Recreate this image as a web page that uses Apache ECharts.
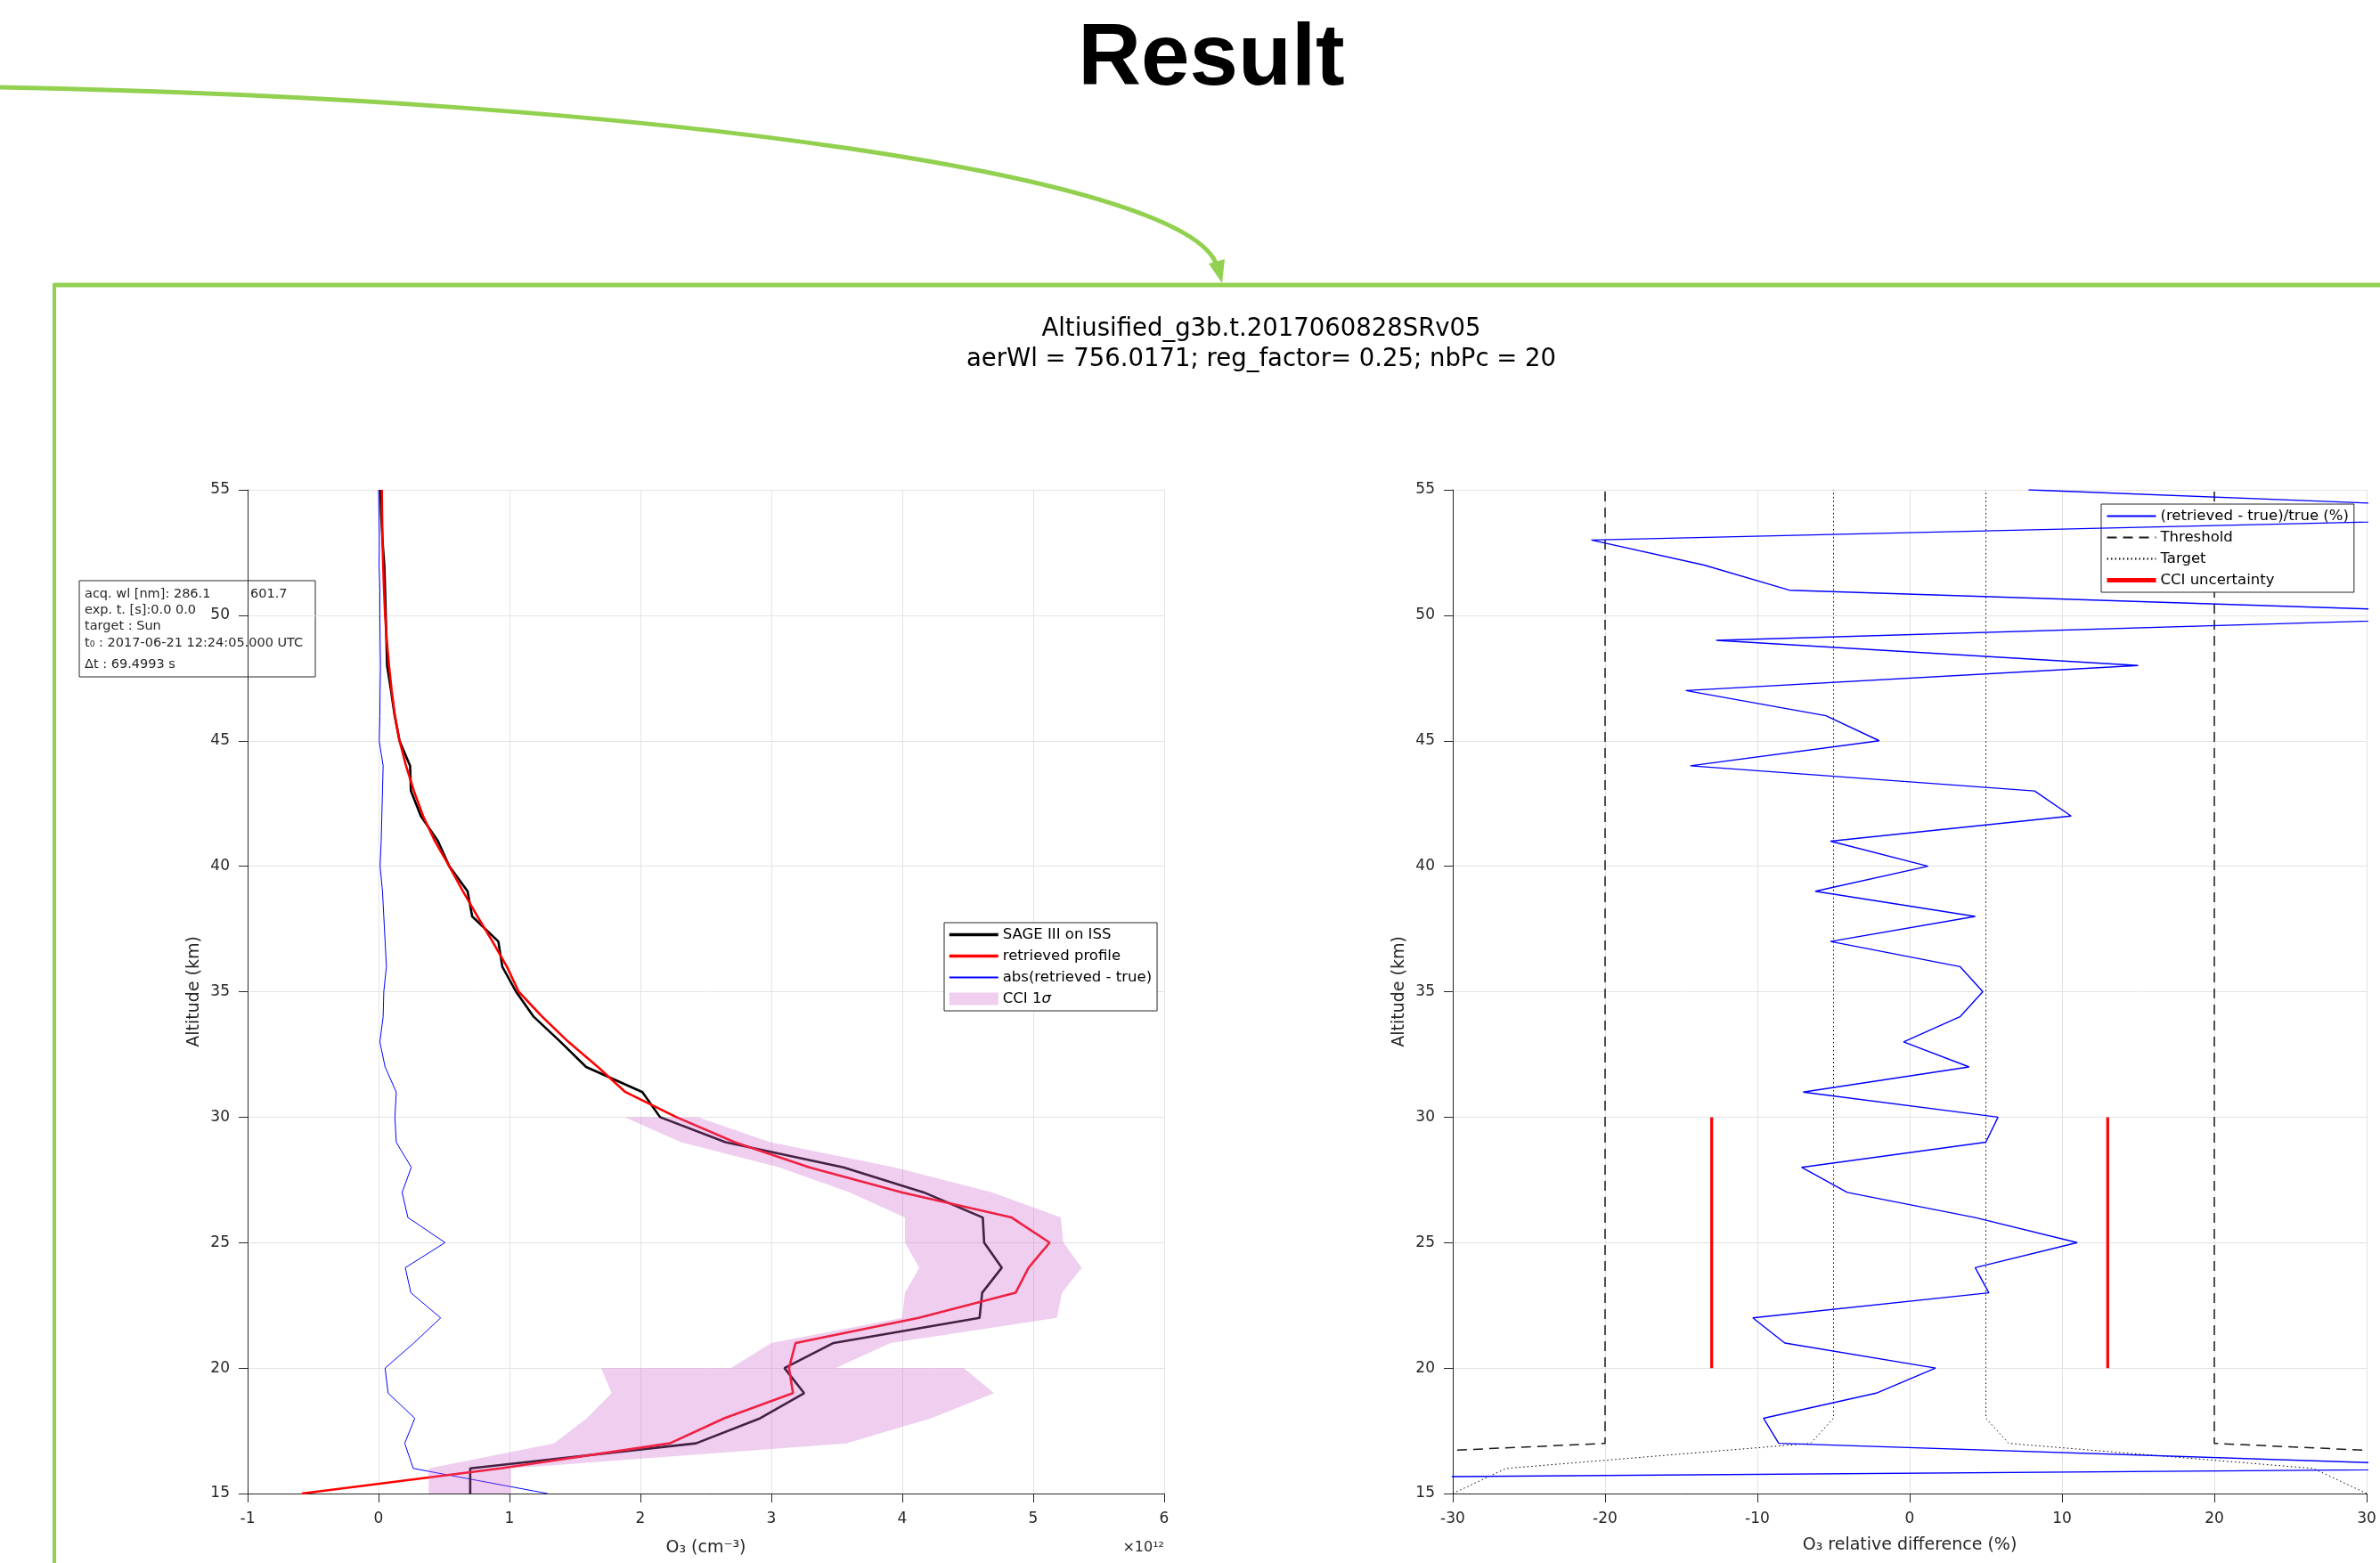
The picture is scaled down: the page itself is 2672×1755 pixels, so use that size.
<!DOCTYPE html>
<html>
<head>
<meta charset="utf-8">
<title>Result</title>
<script src="https://cdn.jsdelivr.net/npm/echarts@6/dist/echarts.min.js"></script>
<style>
  html, body { margin: 0; padding: 0; background: #fff; }
  #chart { width: 2672px; height: 1755px; }
</style>
</head>
<body>
<div id="chart"></div>
<script>
// altitude levels (km)
var altLevels = [15, 16, 17, 18, 19, 20, 21, 22, 23, 24, 25, 26, 27, 28, 29, 30, 31, 32, 33, 34, 35,
  36, 37, 38, 39, 40, 41, 42, 43, 44, 45, 46, 47, 48, 49, 50, 51, 52, 53, 54, 55]

// O3 number density, x1e12 cm-3
var sageIss = [0.70, 0.70, 2.425, 2.915, 3.25, 3.10, 3.475, 4.59, 4.61, 4.76, 4.625, 4.615, 4.165, 3.55, 2.65, 2.15, 2.015, 1.585, 1.39, 1.185, 1.05,
  0.945, 0.915, 0.715, 0.68, 0.54, 0.454, 0.323, 0.247, 0.241, 0.16, 0.123, 0.095, 0.065, 0.06, 0.055, 0.05, 0.044, 0.03, 0.02, 0.014]
var retrieved = [-0.585, 0.93, 2.225, 2.64, 3.165, 3.135, 3.185, 4.125, 4.865, 4.965, 5.125, 4.835, 4.0, 3.29, 2.72, 2.275, 1.885, 1.675, 1.45, 1.25, 1.07,
  0.98, 0.87, 0.755, 0.645, 0.54, 0.43, 0.34, 0.27, 0.21, 0.16, 0.125, 0.1, 0.08, 0.063, 0.05, 0.042, 0.035, 0.03, 0.027, 0.025]
var absDiff = [1.29, 0.265, 0.20, 0.277, 0.073, 0.05, 0.27, 0.474, 0.247, 0.204, 0.508, 0.224, 0.18, 0.25, 0.135, 0.125, 0.135, 0.05, 0.01, 0.035, 0.04,
  0.06, 0.05, 0.04, 0.03, 0.012, 0.02, 0.025, 0.03, 0.035, 0.005, 0.01, 0.012, 0.015, 0.012, 0.01, 0.01, 0.004, 0.006, 0.003, 0.0]

// CCI 1 sigma band (two values at 20 km where the requirement changes)
var cciAlt = [30, 29, 28, 27, 26, 25, 24, 23, 22, 21, 20, 20, 19, 18, 17, 16, 15]
var cciLow = [1.88, 2.31, 3.06, 3.6, 4.02, 4.02, 4.13, 4.02, 4.0, 3.0, 2.69, 1.70, 1.78, 1.59, 1.34, 0.383, 0.383]
var cciHigh = [2.44, 2.99, 3.94, 4.69, 5.21, 5.23, 5.37, 5.22, 5.18, 3.91, 3.49, 4.47, 4.70, 4.22, 3.57, 1.01, 1.01]

// relative difference (%)
var relDiff = [-180, 42, -8.6, -9.6, -2.2, 1.7, -8.2, -10.3, 5.2, 4.3, 11.0, 4.3, -4.1, -7.1, 5.0, 5.8, -7.0, 3.9, -0.4, 3.3, 4.8,
  3.3, -5.2, 4.3, -6.2, 1.2, -5.2, 10.6, 8.2, -14.4, -2.0, -5.5, -14.7, 15.0, -12.7, 43, -7.9, -13.5, -20.9, 50, 7.8]

var thresholdAlt = [16, 17, 55]
var thresholdVal = [56, 20, 20]
var targetAlt = [15, 16, 17, 18, 55]
var targetVal = [30, 26.5, 6.5, 5, 5]
var cciUncAlt = [20, 30]
var cciUncVal = [13, 13]

var FONT = 'DejaVu Sans'
var AX = '#262626'
var GRIDC = '#e3e3e3'
var GREEN = '#92d050'

function pairs (xs, ys, sign) {
  var out = []
  for (var i = 0; i < ys.length; i++) {
    out.push([(sign || 1) * xs[i], ys[i]])
  }
  return out
}

function xAxisCfg (grid, min, max, step, name, gap) {
  return {
    type: 'value',
    gridIndex: grid,
    min: min,
    max: max,
    interval: step,
    name: name,
    nameLocation: 'middle',
    nameGap: gap,
    nameTextStyle: { fontFamily: FONT, fontSize: 19, color: AX },
    axisLine: { show: true, onZero: false, lineStyle: { color: AX, width: 1 } },
    axisTick: { show: true, inside: false, length: 10, lineStyle: { color: AX } },
    axisLabel: { fontFamily: FONT, fontSize: 17, color: AX, margin: 20 },
    splitLine: { show: true, lineStyle: { color: GRIDC, width: 1 } }
  }
}

function yAxisCfg (grid) {
  return {
    type: 'value',
    gridIndex: grid,
    min: 15,
    max: 55,
    interval: 5,
    name: 'Altitude (km)',
    nameLocation: 'middle',
    nameGap: 50,
    nameRotate: 90,
    nameTextStyle: { fontFamily: FONT, fontSize: 19, color: AX },
    axisLine: { show: true, onZero: false, lineStyle: { color: AX, width: 1 } },
    axisTick: { show: true, inside: false, length: 10, lineStyle: { color: AX } },
    axisLabel: { fontFamily: FONT, fontSize: 17, color: AX, margin: 20 },
    splitLine: { show: true, lineStyle: { color: GRIDC, width: 1 } }
  }
}

function lineSeries (name, axis, data, color, width, type, z) {
  return {
    type: 'line',
    name: name,
    xAxisIndex: axis,
    yAxisIndex: axis,
    data: data,
    symbol: 'none',
    clip: true,
    z: z || 2,
    lineStyle: { color: color, width: width, type: type || 'solid' },
    itemStyle: { color: color }
  }
}

var legendBase = {
  orient: 'vertical',
  padding: [5, 6, 5, 4],
  itemWidth: 55,
  itemHeight: 14,
  itemGap: 7,
  borderColor: AX,
  borderWidth: 1,
  backgroundColor: '#fff',
  selectedMode: false,
  itemStyle: { opacity: 0 },
  textStyle: {
    fontFamily: FONT,
    fontSize: 16.5,
    color: '#000',
    rich: { i: { fontFamily: FONT, fontSize: 16.5, fontStyle: 'italic', color: '#000' } }
  }
}

var option = {
  animation: false,
  backgroundColor: '#fff',
  grid: [
    { left: 278, top: 550, width: 1029, height: 1127 },
    { left: 1631, top: 550, width: 1026, height: 1127 }
  ],
  xAxis: [
    xAxisCfg(0, -1, 6, 1, 'O\u2083 (cm\u207B\u00B3)', 52),
    xAxisCfg(1, -30, 30, 10, 'O\u2083 relative difference (%)', 49)
  ],
  yAxis: [yAxisCfg(0), yAxisCfg(1)],
  legend: [
    Object.assign({}, legendBase, {
      left: 1060,
      top: 1036,
      formatter: function (name) { return name === 'CCI 1\u03C3' ? 'CCI 1{i|\u03C3}' : name },
      data: [
        { name: 'SAGE III on ISS', lineStyle: { width: 3.5 } },
        { name: 'retrieved profile', lineStyle: { width: 3.5 } },
        { name: 'abs(retrieved - true)' },
        { name: 'CCI 1\u03C3', icon: 'rect', itemStyle: { opacity: 1 } }
      ]
    }),
    Object.assign({}, legendBase, {
      left: 2359,
      top: 566,
      data: [
        { name: '(retrieved - true)/true (%)' },
        { name: 'Threshold', lineStyle: { width: 2 } },
        { name: 'Target' },
        { name: 'CCI uncertainty', lineStyle: { width: 5 } }
      ]
    })
  ],
  series: [
    lineSeries('abs(retrieved - true)', 0, pairs(absDiff, altLevels), '#0000ff', 1),
    lineSeries('SAGE III on ISS', 0, pairs(sageIss, altLevels), '#000000', 2.6),
    lineSeries('retrieved profile', 0, pairs(retrieved, altLevels), '#ff0000', 2.6),
    {
      type: 'custom',
      name: 'CCI 1\u03C3',
      xAxisIndex: 0,
      yAxisIndex: 0,
      z: 5,
      itemStyle: { color: 'rgba(204,102,204,0.32)' },
      data: [[cciLow[0], cciAlt[0]]],
      renderItem: function (params, api) {
        var pts = []
        for (var i = 0; i < cciAlt.length; i++) pts.push(api.coord([cciLow[i], cciAlt[i]]))
        for (var j = cciAlt.length - 1; j >= 0; j--) pts.push(api.coord([cciHigh[j], cciAlt[j]]))
        return {
          type: 'polygon',
          shape: { points: pts },
          style: { fill: 'rgba(204,102,204,0.32)', stroke: null }
        }
      }
    },
    lineSeries('(retrieved - true)/true (%)', 1, pairs(relDiff, altLevels), '#0000ff', 1.4, 'solid', 4),
    lineSeries('Threshold', 1, pairs(thresholdVal, thresholdAlt, -1), '#1a1a1a', 1.5, [11, 7]),
    lineSeries('Threshold', 1, pairs(thresholdVal, thresholdAlt), '#1a1a1a', 1.5, [11, 7]),
    lineSeries('Target', 1, pairs(targetVal, targetAlt, -1), '#000000', 1, [1.5, 3]),
    lineSeries('Target', 1, pairs(targetVal, targetAlt), '#000000', 1, [1.5, 3]),
    lineSeries('CCI uncertainty', 1, pairs(cciUncVal, cciUncAlt, -1), '#ff0000', 3.2),
    lineSeries('CCI uncertainty', 1, pairs(cciUncVal, cciUncAlt), '#ff0000', 3.2)
  ],
  graphic: [
    // slide decoration: frame and curved arrow
    { type: 'line', z: 50, shape: { x1: 61, y1: 320, x2: 2672, y2: 320 }, style: { stroke: GREEN, lineWidth: 5 } },
    { type: 'line', z: 50, shape: { x1: 61, y1: 318, x2: 61, y2: 1755 }, style: { stroke: GREEN, lineWidth: 4 } },
    {
      type: 'bezierCurve',
      z: 50,
      shape: { x1: -5, y1: 98, cpx1: 750, cpy1: 112, cpx2: 1335, cpy2: 200, x2: 1366, y2: 298 },
      style: { stroke: GREEN, lineWidth: 5, fill: null }
    },
    {
      type: 'polygon',
      z: 50,
      shape: { points: [[1372, 318], [1375, 291], [1357, 296]] },
      style: { fill: GREEN }
    },
    {
      type: 'text',
      z: 50,
      x: 1360,
      y: 68,
      style: { text: 'Result', font: 'bold 98px "Liberation Sans"', fill: '#000', align: 'center', verticalAlign: 'middle' }
    },
    // figure title
    {
      type: 'text',
      x: 1416,
      y: 370,
      style: { text: 'Altiusified_g3b.t.2017060828SRv05', font: '27.5px "DejaVu Sans"', fill: '#000', align: 'center', verticalAlign: 'middle' }
    },
    {
      type: 'text',
      x: 1416,
      y: 404,
      style: { text: 'aerWl = 756.0171; reg_factor= 0.25; nbPc = 20', font: '27.5px "DejaVu Sans"', fill: '#000', align: 'center', verticalAlign: 'middle' }
    },
    {
      type: 'text',
      x: 1307,
      y: 1738,
      style: { text: '\u00D710\u00B9\u00B2', font: '16px "DejaVu Sans"', fill: AX, align: 'right', verticalAlign: 'middle' }
    },
    // acquisition info box
    {
      type: 'group',
      x: 89,
      y: 652,
      z: 100,
      children: [
        { type: 'rect', shape: { x: 0, y: 0, width: 265, height: 108 }, style: { fill: '#fff', stroke: AX, lineWidth: 1 } },
        { type: 'text', x: 6, y: 15, style: { text: 'acq. wl [nm]: 286.1', font: '14.5px "DejaVu Sans"', fill: AX, verticalAlign: 'middle' } },
        { type: 'text', x: 192, y: 15, style: { text: '601.7', font: '14.5px "DejaVu Sans"', fill: AX, verticalAlign: 'middle' } },
        { type: 'text', x: 6, y: 33, style: { text: 'exp. t. [s]:0.0 0.0', font: '14.5px "DejaVu Sans"', fill: AX, verticalAlign: 'middle' } },
        { type: 'text', x: 6, y: 51, style: { text: 'target : Sun', font: '14.5px "DejaVu Sans"', fill: AX, verticalAlign: 'middle' } },
        { type: 'text', x: 6, y: 70, style: { text: 't\u2080 : 2017-06-21 12:24:05.000 UTC', font: '14.5px "DejaVu Sans"', fill: AX, verticalAlign: 'middle' } },
        { type: 'text', x: 6, y: 94, style: { text: '\u0394t : 69.4993 s', font: '14.5px "DejaVu Sans"', fill: AX, verticalAlign: 'middle' } }
      ]
    }
  ]
}

var myChart = echarts.init(document.getElementById('chart'))
myChart.setOption(option)
window.addEventListener('resize', function () {
  myChart.resize()
})
</script>
</body>
</html>
